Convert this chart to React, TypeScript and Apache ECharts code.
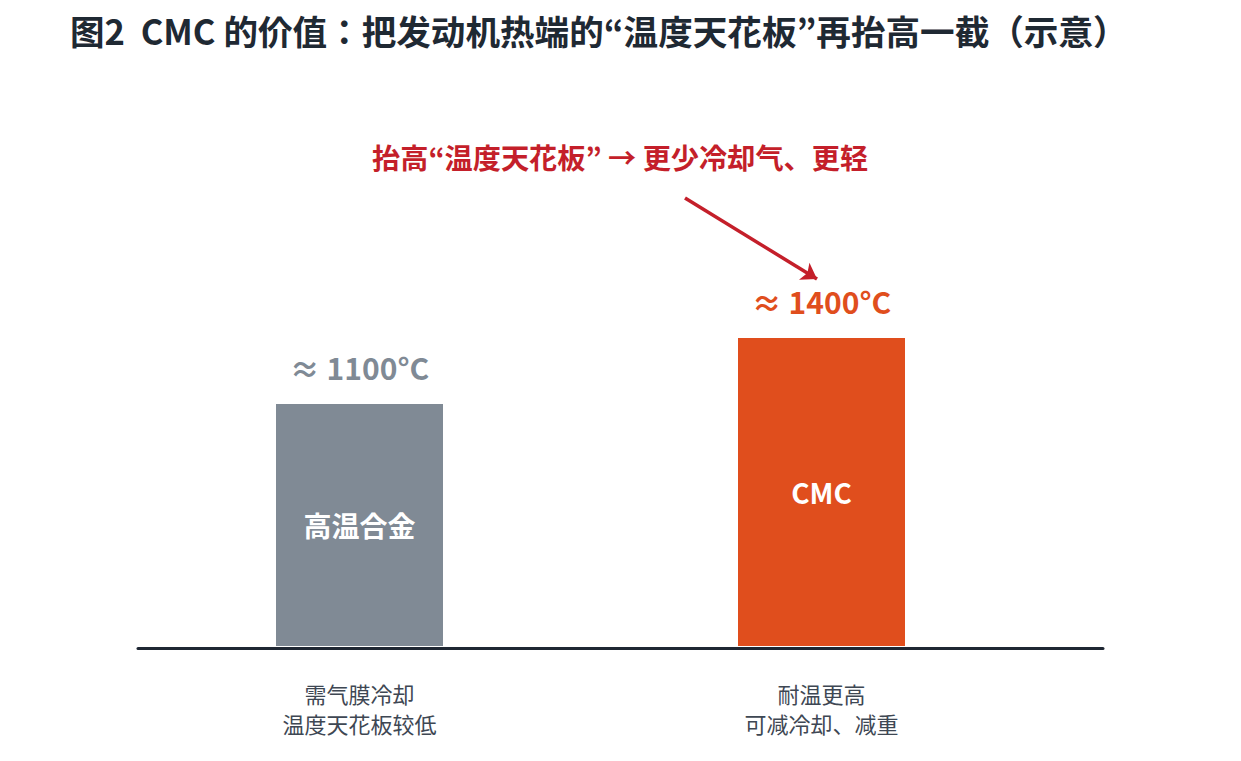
import React, { useEffect, useRef } from 'react';
import * as echarts from 'echarts';

const FONT = '"Noto Sans CJK JP", "Noto Sans CJK SC", "Noto Sans", sans-serif';

const categories = ['需气膜冷却\n温度天花板较低', '耐温更高\n可减冷却、减重'];
const materials = ['高温合金', 'CMC'];
const temperatures = [1100, 1400];
const valueLabels = ['≈ 1100°C', '≈ 1400°C'];
const barColors = ['#808a95', '#e04e1d'];

const title = '图2  CMC 的价值：把发动机热端的“温度天花板”再抬高一截（示意）';
const note = '抬高“温度天花板” → 更少冷却气、更轻';

const App: React.FC = () => {
  const chartRef = useRef<HTMLDivElement>(null);

  useEffect(() => {
    document.body.style.margin = '0';
    if (!chartRef.current) return;
    const chart = echarts.init(chartRef.current, null, { renderer: 'svg' });

    const option = {
      animation: false,
      backgroundColor: '#ffffff',
      textStyle: { fontFamily: FONT },
      title: {
        text: title,
        left: 65,
        top: 8,
        textStyle: { fontSize: 34.6, fontWeight: 'bold', color: '#1f2933', fontFamily: FONT },
      },
      graphic: [
        {
          type: 'text',
          left: 372,
          top: 142,
          style: {
            text: note,
            fontSize: 28.2,
            fontWeight: 'bold',
            fill: '#c41f2a',
            fontFamily: FONT,
          },
        },
      ],
      grid: [
        { left: 128.5, right: 188.5, top: 206, bottom: 115 },
        { left: 138, right: 138, top: 206, bottom: 113 },
      ],
      xAxis: [
        {
          type: 'category',
          gridIndex: 0,
          data: categories,
          axisLine: { show: false },
          axisTick: { show: false },
          axisLabel: {
            margin: 32,
            fontSize: 22,
            lineHeight: 30,
            color: '#3e4753',
            fontFamily: FONT,
          },
        },
        {
          type: 'value',
          gridIndex: 1,
          min: 0,
          max: 1,
          axisLine: { show: true, lineStyle: { color: '#1f2733', width: 3 } },
          axisTick: { show: false },
          axisLabel: { show: false },
          splitLine: { show: false },
        },
      ],
      yAxis: [
        { type: 'value', gridIndex: 0, min: 0, max: 2000, show: false },
        { type: 'value', gridIndex: 1, min: 0, max: 1, show: false },
      ],
      series: [
        {
          type: 'bar',
          xAxisIndex: 0,
          yAxisIndex: 0,
          barWidth: 167,
          z: 3,
          data: temperatures.map((v, i) => ({
            value: v,
            itemStyle: { color: barColors[i] },
          })),
          label: {
            show: true,
            position: 'inside',
            formatter: (p: any) => materials[p.dataIndex],
            color: '#ffffff',
            fontSize: 28,
            fontWeight: 'bold',
            fontFamily: FONT,
          },
          markLine: {
            silent: true,
            symbol: ['none', 'arrow'],
            symbolSize: 15,
            label: { show: false },
            lineStyle: { color: '#c41f2a', width: 3.5, type: 'solid' },
            data: [[{ x: 685, y: 198 }, { x: 817, y: 279 }]],
          },
        },
        {
          type: 'bar',
          xAxisIndex: 0,
          yAxisIndex: 0,
          barWidth: 167,
          barGap: '-100%',
          z: 2,
          data: temperatures.map((v, i) => ({
            value: v,
            itemStyle: { color: 'rgba(0,0,0,0)' },
            label: { color: barColors[i] },
          })),
          label: {
            show: true,
            position: 'top',
            distance: 22,
            formatter: (p: any) => valueLabels[p.dataIndex],
            fontSize: 30,
            fontWeight: 'bold',
            fontFamily: FONT,
          },
        },
      ],
    };

    chart.setOption(option);

    return () => {
      chart.dispose();
    };
  }, []);

  return <div ref={chartRef} style={{ width: '1241px', height: '761px' }} />;
};

export default App;
